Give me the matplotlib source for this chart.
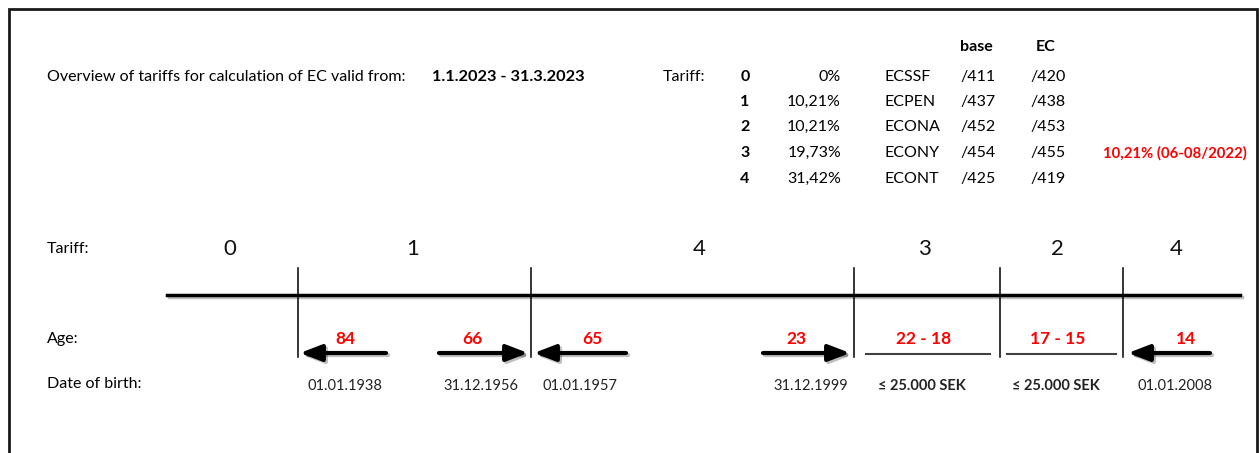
import matplotlib
matplotlib.use('Agg')
import matplotlib.pyplot as plt
import matplotlib.patheffects as pe

plt.rcParams['font.family'] = ['Lato', 'DejaVu Sans']

# tariff table
title_text = "Overview of tariffs for calculation of EC valid from:"
valid_period = "1.1.2023 - 31.3.2023"
table_tariffs = ['0', '1', '2', '3', '4']
table_rates = ['0%', '10,21%', '10,21%', '19,73%', '31,42%']
table_codes = ['ECSSF', 'ECPEN', 'ECONA', 'ECONY', 'ECONT']
table_base = ['/411', '/437', '/452', '/454', '/425']
table_ec = ['/420', '/438', '/453', '/455', '/419']
table_notes = ['', '', '', '10,21% (06-08/2022)', '']

# timeline
segment_tariffs = ['0', '1', '4', '3', '2', '4']
age_labels = ['84', '66', '65', '23', '22 - 18', '17 - 15', '14']
age_marks = ['left', 'right', 'left', 'right', 'line', 'line', 'left']
birth_labels = ['01.01.1938', '31.12.1956', '01.01.1957', '31.12.1999',
                '≤ 25.000 SEK', '≤ 25.000 SEK', '01.01.2008']
birth_bold = [False, False, False, False, True, True, False]

# layout (pixels)
W, H = 1259, 453
row_y = [77, 102, 127, 153, 179]
seg_x = [230, 413, 699, 924, 1057, 1176]
bound_x = [298, 531, 854, 1000, 1123]
age_x = [345, 472, 592, 796, 924, 1058, 1186]
mark_span = [(386, 300), (439, 528), (626, 534), (763, 850), (866, 990), (1007, 1116), (1210, 1128)]
birth_x = [345, 481, 580, 811, 922, 1056, 1175]

fig = plt.figure(figsize=(W / 100, H / 100), dpi=100)
ax = fig.add_axes([0, 0, 1, 1])
ax.set_xlim(0, W)
ax.set_ylim(H, 0)
ax.axis('off')

# frame
ax.plot([9, 9, 1257, 1257], [H, 9, 9, H], color='#1a1a1a', lw=2, solid_joinstyle='miter')

fs = 11.5
ax.text(47, 77, title_text, fontsize=fs, va='center')
ax.text(432, 77, valid_period, fontsize=11.8, va='center', fontweight='bold')

# table
ax.text(663, 77, 'Tariff:', fontsize=fs, va='center')
ax.text(976, 47, 'base', fontsize=fs, va='center', ha='center', fontweight='bold')
ax.text(1046, 47, 'EC', fontsize=fs, va='center', ha='center', fontweight='bold')
for i, y in enumerate(row_y):
    ax.text(745, y, table_tariffs[i], fontsize=fs, va='center', ha='center', fontweight='bold')
    ax.text(841, y, table_rates[i], fontsize=fs, va='center', ha='right')
    ax.text(885, y, table_codes[i], fontsize=fs, va='center')
    ax.text(960, y, table_base[i], fontsize=fs, va='center')
    ax.text(1030, y, table_ec[i], fontsize=fs, va='center')
    if table_notes[i]:
        ax.text(1103, y, table_notes[i], fontsize=10.7, va='center', color='red', fontweight='bold')

# timeline
shadow = [pe.SimpleLineShadow(offset=(1.5, -1.5), alpha=0.25), pe.Normal()]
ax.text(47, 249, 'Tariff:', fontsize=fs, va='center')
for x, t in zip(seg_x, segment_tariffs):
    ax.text(x, 249, t, fontsize=16, va='center', ha='center', color='#111111')
ax.plot([167, 1240], [295, 295], color='black', lw=2.5, path_effects=shadow)
for x in bound_x:
    ax.plot([x, x], [268, 357], color='black', lw=1.1)

ax.text(47, 339, 'Age:', fontsize=fs, va='center')
for x, lab, mk, (x0, x1) in zip(age_x, age_labels, age_marks, mark_span):
    ax.text(x, 339, lab, fontsize=12.5, va='center', ha='center', color='red', fontweight='bold')
    if mk == 'line':
        ax.plot([x0, x1], [354, 354], color='#404040', lw=1.5)
    else:
        ax.annotate('', xy=(x1, 353), xytext=(x0, 353),
                    arrowprops=dict(arrowstyle='-|>,head_length=1.3,head_width=0.5',
                                    color='black', lw=3, shrinkA=0, shrinkB=0,
                                    mutation_scale=10, path_effects=shadow))

ax.text(47, 384, 'Date of birth:', fontsize=fs, va='center')
for x, lab, b in zip(birth_x, birth_labels, birth_bold):
    ax.text(x, 386, lab, fontsize=10.5, va='center', ha='center',
            fontweight='bold' if b else 'normal', color='#222222')

fig.savefig('out.png', dpi=100)
